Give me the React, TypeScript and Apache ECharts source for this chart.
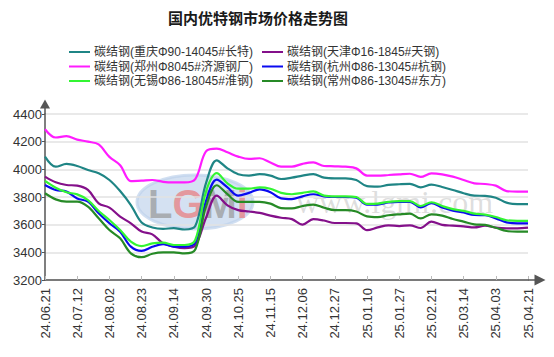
import React, { useEffect, useRef } from "react";
import * as echarts from "echarts";

const tickLabels = [
  "24.06.21", "24.07.12", "24.08.02", "24.08.23", "24.09.14", "24.09.30",
  "24.10.25", "24.11.15", "24.12.06", "24.12.27", "25.01.10", "25.01.27",
  "25.02.21", "25.03.14", "25.04.03", "25.04.21",
];

const seriesNames = [
  "碳结钢(重庆Φ90-14045#长特)",
  "碳结钢(天津Φ16-1845#天钢)",
  "碳结钢(郑州Φ8045#济源钢厂)",
  "碳结钢(杭州Φ86-13045#杭钢)",
  "碳结钢(无锡Φ86-18045#淮钢)",
  "碳结钢(常州Φ86-13045#东方)",
];

const seriesColors = ["#1f8585", "#84108a", "#ff1cff", "#0a0af0", "#33f533", "#268a26"];

const chongqing = [
  4092, 4019, 4039, 4024, 3995, 3971, 3923, 3843, 3742, 3615,
  3580, 3570, 3575, 3565, 3590, 3900, 4065, 4007, 3965, 3955,
  3965, 3955, 3930, 3940, 3955, 3965, 3940, 3935, 3935, 3923,
  3878, 3875, 3887, 3892, 3895, 3870, 3890, 3872, 3851, 3827,
  3810, 3808, 3795, 3759, 3749, 3749,
];

const tianjin = [
  3947, 3906, 3887, 3882, 3851, 3754, 3723, 3658, 3610, 3550,
  3530, 3465, 3441, 3430, 3450, 3650, 3810, 3740, 3705, 3695,
  3685, 3665, 3650, 3640, 3600, 3640, 3630, 3612, 3612, 3610,
  3560, 3580, 3595, 3590, 3595, 3576, 3622, 3598, 3593, 3588,
  3580, 3592, 3578, 3573, 3573, 3578,
];

const zhengzhou = [
  4290, 4230, 4240, 4215, 4200, 4180, 4090, 4030, 3915, 3918,
  3923, 3910, 3906, 3906, 3930, 4130, 4150, 4123, 4092, 4075,
  4080, 4050, 4020, 4020, 4040, 4050, 4024, 4022, 4019, 4007,
  3955, 3954, 3959, 3964, 3968, 3945, 3971, 3964, 3947, 3923,
  3899, 3894, 3882, 3843, 3839, 3839,
];

const hangzhou = [
  3887, 3851, 3839, 3790, 3766, 3682, 3610, 3549, 3441, 3410,
  3440, 3460, 3441, 3441, 3470, 3770, 3925, 3870, 3810, 3830,
  3855, 3835, 3790, 3785, 3805, 3820, 3805, 3800, 3800, 3795,
  3745, 3745, 3760, 3765, 3765, 3725, 3755, 3725, 3702, 3688,
  3670, 3668, 3645, 3617, 3610, 3610,
];

const wuxi = [
  3916, 3867, 3834, 3819, 3778, 3699, 3634, 3561, 3477, 3445,
  3465, 3470, 3453, 3453, 3489, 3839, 3972, 3899, 3860, 3860,
  3870, 3860, 3830, 3820, 3830, 3840, 3810, 3805, 3805, 3800,
  3750, 3752, 3765, 3770, 3770, 3735, 3762, 3735, 3712, 3700,
  3680, 3672, 3655, 3632, 3627, 3627,
];

const changzhou = [
  3827, 3783, 3766, 3766, 3730, 3646, 3561, 3501, 3393, 3365,
  3390, 3400, 3400, 3392, 3420, 3730, 3885, 3820, 3765, 3765,
  3765, 3752, 3720, 3718, 3735, 3745, 3722, 3705, 3705, 3695,
  3660, 3655, 3668, 3675, 3680, 3645, 3675, 3665, 3641, 3622,
  3602, 3598, 3578, 3554, 3549, 3549,
];

const allValues = [chongqing, tianjin, zhengzhou, hangzhou, wuxi, changzhou];

const categories: string[] = [];
tickLabels.forEach((lab, k) => {
  categories.push(lab);
  if (k < tickLabels.length - 1) {
    categories.push("");
    categories.push("");
  }
});

const FONT = "'Liberation Sans', 'Noto Sans CJK SC', sans-serif";

export default function App() {
  const ref = useRef<HTMLDivElement>(null);
  useEffect(() => {
    if (!ref.current) return;
    const chart = echarts.init(ref.current, null, { renderer: "svg" });
    const gridLeft = 45;
    const gridRight = 26;
    const gridTop = 114;
    const gridBottom = 77;
    const W = 554;
    const H = 357;
    const xEnd = W - gridRight;
    const yBase = H - gridBottom;
    chart.setOption({
      animation: false,
      backgroundColor: "#ffffff",
      title: {
        text: "国内优特钢市场价格走势图",
        left: 163,
        top: 5,
        textStyle: {
          fontSize: 15,
          fontWeight: "bold",
          color: "#1a1a1a",
          fontFamily: "'Noto Sans CJK SC', sans-serif",
        },
      },
      legend: [
        {
          orient: "vertical",
          left: 64,
          top: 41,
          itemWidth: 21,
          itemHeight: 12,
          itemGap: 2.5,
          icon: "path://M0,5 L21,5 L21,7 L0,7 Z",
          data: [seriesNames[0], seriesNames[2], seriesNames[4]],
          textStyle: { fontSize: 12, color: "#333", fontFamily: FONT, lineHeight: 12, padding: [0, 0, 0, -1] },
        },
        {
          orient: "vertical",
          left: 257,
          top: 41,
          itemWidth: 21,
          itemHeight: 12,
          itemGap: 2.5,
          icon: "path://M0,5 L21,5 L21,7 L0,7 Z",
          data: [seriesNames[1], seriesNames[3], seriesNames[5]],
          textStyle: { fontSize: 12, color: "#333", fontFamily: FONT, lineHeight: 12, padding: [0, 0, 0, -1] },
        },
      ],
      grid: { left: gridLeft, right: gridRight, top: gridTop, bottom: gridBottom },
      xAxis: {
        type: "category",
        data: categories,
        boundaryGap: false,
        axisLine: {
          show: true,
          symbol: ["none", "triangle"],
          symbolSize: [11, 11],
          symbolOffset: [0, 12],
          lineStyle: { color: "#555", width: 1.5 },
        },
        axisTick: { show: true, interval: 2, inside: true, length: 4, lineStyle: { color: "#bbb" } },
        axisLabel: {
          interval: 2,
          rotate: 90,
          margin: 8,
          fontSize: 13,
          color: "#333",
          fontFamily: FONT,
        },
        splitLine: { show: false },
      },
      yAxis: {
        type: "value",
        min: 3200,
        max: 4400,
        interval: 200,
        axisLine: {
          show: true,
          symbol: ["none", "triangle"],
          symbolSize: [10, 9],
          symbolOffset: [0, 10],
          lineStyle: { color: "#555", width: 1.5 },
        },
        axisTick: { show: true, length: 3, lineStyle: { color: "#555" } },
        axisLabel: {
          fontSize: 13,
          color: "#333",
          margin: 3,
          fontFamily: FONT,
          formatter: (v: number) => String(v),
        },
        splitLine: { show: true, lineStyle: { color: "#e2e2e2", width: 1.5 } },
      },
      graphic: [
        {
          type: "line",
          shape: { x1: xEnd, y1: yBase, x2: xEnd + 9, y2: yBase },
          style: { stroke: "#555", lineWidth: 1.5 },
          z: 1,
        },
        {
          type: "line",
          shape: { x1: gridLeft, y1: gridTop, x2: gridLeft, y2: gridTop - 7 },
          style: { stroke: "#555", lineWidth: 1.5 },
          z: 1,
        },
        {
          type: "ellipse",
          shape: { cx: 195, cy: 202, rx: 58, ry: 27 },
          style: { fill: "rgba(170,195,230,0.5)", stroke: "rgba(190,210,235,0.7)", lineWidth: 3 },
          z: 0,
          silent: true,
        },
        {
          type: "text",
          x: 148,
          y: 184,
          z: 0,
          silent: true,
          style: {
            text: "{g|L}{r|G}{g|M}{r|i}",
            rich: {
              g: { fontSize: 40, fontWeight: "bold", fill: "rgba(150,150,150,0.7)", fontFamily: "'Liberation Sans', sans-serif" },
              r: { fontSize: 40, fontWeight: "bold", fill: "rgba(235,120,120,0.7)", fontFamily: "'Liberation Sans', sans-serif" },
            },
          },
        },
        {
          type: "text",
          x: 296,
          y: 186,
          z: 0,
          silent: true,
          style: {
            text: "www.lgmi.com",
            fontSize: 32,
            fontFamily: "'Liberation Serif', serif",
            fill: "rgba(160,160,160,0.35)",
          },
        },
      ],
      series: allValues.map((vals, i) => ({
        name: seriesNames[i],
        type: "line",
        data: vals,
        smooth: 0.35,
        symbol: "none",
        showSymbol: false,
        z: 5,
        lineStyle: { color: seriesColors[i], width: 2.2 },
        itemStyle: { color: seriesColors[i] },
      })),
    });
    return () => chart.dispose();
  }, []);
  return <div ref={ref} style={{ width: 554, height: 357, position: "absolute", left: 0, top: 0 }} />;
}
